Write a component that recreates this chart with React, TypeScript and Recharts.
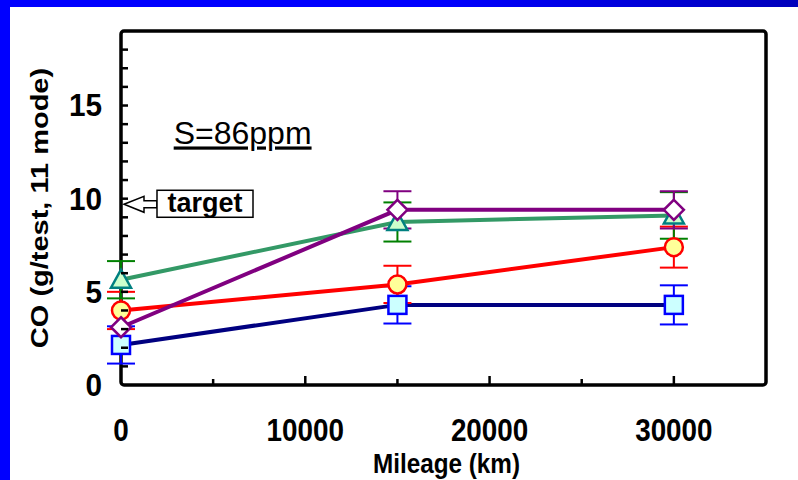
import React from 'react';
import { LineChart, Line, XAxis, YAxis, ErrorBar, ReferenceArea, ReferenceDot } from 'recharts';

// ---- data ----
const mileage = [0, 15000, 30000];
const blueCO = [2.15, 4.3, 4.3];
const blueErr = [1.0, 1.0, 1.05];
const redCO = [4.0, 5.4, 7.4];
const redErr = [1.0, 1.0, 1.1];
const greenCO = [5.65, 8.75, 9.1];
const greenErr = [1.0, 1.05, 1.25];
const purpleCO = [3.1, 9.4, 9.4];
const purpleErr = [0, 1.0, 1.0];

const xTicks = [0, 5000, 10000, 15000, 20000, 25000, 30000, 35000];
const xLabelTicks = [0, 10000, 20000, 30000];
const yTicks = [0, 1, 2, 3, 4, 5, 6, 7, 8, 9, 10, 11, 12, 13, 14, 15, 16, 17, 18, 19];
const yLabelTicks = [0, 5, 10, 15];
const targetCO = 9.7;
const targetText = 'target';
const sulfurText = 'S=86ppm';
const sulfurPos = { x: 6600, y: 13.5 };
const xTitle = 'Mileage (km)';
const yTitle = 'CO (g/test, 11 mode)';

const data = mileage.map((m, i) => ({
  mileage: m,
  blue: blueCO[i],
  blueErr: blueErr[i],
  red: redCO[i],
  redErr: redErr[i],
  green: greenCO[i],
  greenErr: greenErr[i],
  purple: purpleCO[i],
  purpleErr: purpleErr[i],
}));

const FONT = '"Liberation Sans", Arial, Helvetica, sans-serif';

const YTick = (props: any) => {
  const { x, y, payload } = props;
  const v = payload.value;
  const showLabel = yLabelTicks.includes(v);
  return (
    <g>
      {v !== 0 && v !== 19 && <line x1={x} y1={y} x2={x + 7} y2={y} stroke="#000" strokeWidth={2.5} />}
      {showLabel && (
        <text
          transform={`translate(${x - 19},${y}) scale(0.93,1)`}
          textAnchor="end"
          dominantBaseline="central"
          fontFamily={FONT}
          fontWeight="bold"
          fontSize={32}
          fill="#000"
        >
          {v}
        </text>
      )}
    </g>
  );
};

const XTick = (props: any) => {
  const { x, y, payload } = props;
  const v = payload.value;
  const showLabel = xLabelTicks.includes(v);
  const len = v % 10000 === 0 ? 9 : 6;
  return (
    <g>
      {v !== 0 && v !== 35000 && <line x1={x} y1={y} x2={x} y2={y - len} stroke="#000" strokeWidth={2.5} />}
      {showLabel && (
        <text
          transform={`translate(${x},${y + 56}) scale(0.87,1)`}
          textAnchor="middle"
          fontFamily={FONT}
          fontWeight="bold"
          fontSize={32}
          fill="#000"
        >
          {v}
        </text>
      )}
    </g>
  );
};

const XTitle = (props: any) => {
  const vb = props.viewBox;
  return (
    <text
      transform={`translate(${vb.x + vb.width / 2 + 3},${vb.y + 88}) scale(0.9,1)`}
      textAnchor="middle"
      fontFamily={FONT}
      fontWeight="bold"
      fontSize={27}
      fill="#000"
    >
      {xTitle}
    </text>
  );
};

const YTitle = (props: any) => {
  const vb = props.viewBox;
  return (
    <text
      transform={`translate(${vb.x + 40},${vb.y + vb.height / 2}) rotate(-90) scale(1,0.85)`}
      textAnchor="middle"
      dominantBaseline="central"
      fontFamily={FONT}
      fontWeight="bold"
      fontSize={29}
      fill="#000"
    >
      {yTitle}
    </text>
  );
};

const SquareDot = (p: any) => {
  if (p.cx == null || p.cy == null) return <g key={`sq-${p.index}`} />;
  return (
    <rect key={`sq-${p.index}`} x={p.cx - 9} y={p.cy - 9} width={18} height={18} fill="#CCFFFF" stroke="#0000FF" strokeWidth={2.5} />
  );
};
const CircleDot = (p: any) => {
  if (p.cx == null || p.cy == null) return <g key={`ci-${p.index}`} />;
  return <circle key={`ci-${p.index}`} cx={p.cx} cy={p.cy} r={9} fill="#FFFF99" stroke="#FF0000" strokeWidth={2.5} />;
};
const TriangleDot = (p: any) => {
  if (p.cx == null || p.cy == null) return <g key={`tr-${p.index}`} />;
  const { cx, cy } = p;
  return (
    <polygon
      key={`tr-${p.index}`}
      points={`${cx},${cy - 10} ${cx - 10},${cy + 8} ${cx + 10},${cy + 8}`}
      fill="#CCFFCC"
      stroke="#008080"
      strokeWidth={2.5}
      strokeLinejoin="miter"
    />
  );
};
const DiamondDot = (p: any) => {
  if (p.cx == null || p.cy == null) return <g key={`di-${p.index}`} />;
  const { cx, cy } = p;
  return (
    <polygon
      key={`di-${p.index}`}
      points={`${cx},${cy - 10} ${cx + 10},${cy} ${cx},${cy + 10} ${cx - 10},${cy}`}
      fill="#FFFFFF"
      stroke="#800080"
      strokeWidth={2.5}
    />
  );
};

const TargetShape = (p: any) => {
  const { cx, cy } = p;
  if (cx == null || cy == null) return <g />;
  const t = cx + 3;
  const path = `M ${t} ${cy} L ${t + 20} ${cy - 8} L ${t + 20} ${cy - 3.5} L ${t + 33} ${cy - 3.5} L ${t + 33} ${cy + 3.5} L ${t + 20} ${cy + 3.5} L ${t + 20} ${cy + 8} Z`;
  return (
    <g>
      <path d={path} fill="#FFFFFF" stroke="#000" strokeWidth={1.5} />
      <rect x={t + 33} y={cy - 14} width={96} height={27} fill="#FFFFFF" stroke="#000" strokeWidth={1.5} />
      <text
        x={t + 81}
        y={cy + 8}
        textAnchor="middle"
        fontFamily={FONT}
        fontWeight="bold"
        fontSize={27}
        fill="#000"
      >
        {targetText}
      </text>
    </g>
  );
};

const SulfurShape = (p: any) => {
  const { cx, cy } = p;
  if (cx == null || cy == null) return <g />;
  return (
    <text
      x={cx}
      y={cy + 11}
      textAnchor="middle"
      fontFamily={FONT}
      fontSize={32}
      fill="#000"
      textDecoration="underline"
    >
      {sulfurText}
    </text>
  );
};

const BoxShape = (p: any) => (
  <rect x={p.x} y={p.y} width={p.width} height={p.height} rx={3} ry={3} fill="none" stroke="#000" strokeWidth={3.5} />
);

export default function App() {
  return (
    <div style={{ position: 'absolute', left: 0, top: 0, width: 798, height: 480, background: '#FFFFFF', overflow: 'hidden' }}>
      <div style={{ position: 'absolute', left: 0, top: 0, width: 10, height: 480, background: '#0000FF' }} />
      <div
        style={{
          position: 'absolute',
          left: 0,
          top: 0,
          width: 798,
          height: 7,
          background: 'linear-gradient(90deg, #0000FF 0%, #0000FF 55%, #0000BB 100%)',
        }}
      />
      <div style={{ position: 'absolute', left: 0, top: 0 }}>
        <LineChart width={798} height={480} data={data} margin={{ top: 31, right: 32, left: 0, bottom: 0 }}>
          <XAxis
            dataKey="mileage"
            type="number"
            domain={[0, 35000]}
            ticks={xTicks}
            interval={0}
            axisLine={false}
            tickLine={false}
            tickSize={0}
            tickMargin={0}
            tick={<XTick />}
            height={95}
            label={<XTitle />}
          />
          <YAxis
            type="number"
            domain={[0, 19]}
            ticks={yTicks}
            interval={0}
            axisLine={false}
            tickLine={false}
            tickSize={0}
            tickMargin={0}
            tick={<YTick />}
            width={121}
            label={<YTitle />}
          />
          <ReferenceArea x1={0} x2={35000} y1={0} y2={19} shape={<BoxShape />} ifOverflow="visible" />
          <Line dataKey="blue" stroke="#000080" strokeWidth={4} dot={SquareDot} isAnimationActive={false}>
            <ErrorBar dataKey="blueErr" width={14} strokeWidth={2} stroke="#0000FF" direction="y" />
          </Line>
          <Line dataKey="red" stroke="#FF0000" strokeWidth={4} dot={CircleDot} isAnimationActive={false}>
            <ErrorBar dataKey="redErr" width={14} strokeWidth={2} stroke="#FF0000" direction="y" />
          </Line>
          <Line dataKey="green" stroke="#339966" strokeWidth={4} dot={TriangleDot} isAnimationActive={false}>
            <ErrorBar dataKey="greenErr" width={14} strokeWidth={2} stroke="#008000" direction="y" />
          </Line>
          <Line dataKey="purple" stroke="#800080" strokeWidth={4} dot={DiamondDot} isAnimationActive={false}>
            <ErrorBar dataKey="purpleErr" width={14} strokeWidth={2} stroke="#800080" direction="y" />
          </Line>
          <ReferenceDot x={0} y={targetCO} shape={<TargetShape />} ifOverflow="visible" />
          <ReferenceDot x={sulfurPos.x} y={sulfurPos.y} shape={<SulfurShape />} ifOverflow="visible" />
        </LineChart>
      </div>
    </div>
  );
}
